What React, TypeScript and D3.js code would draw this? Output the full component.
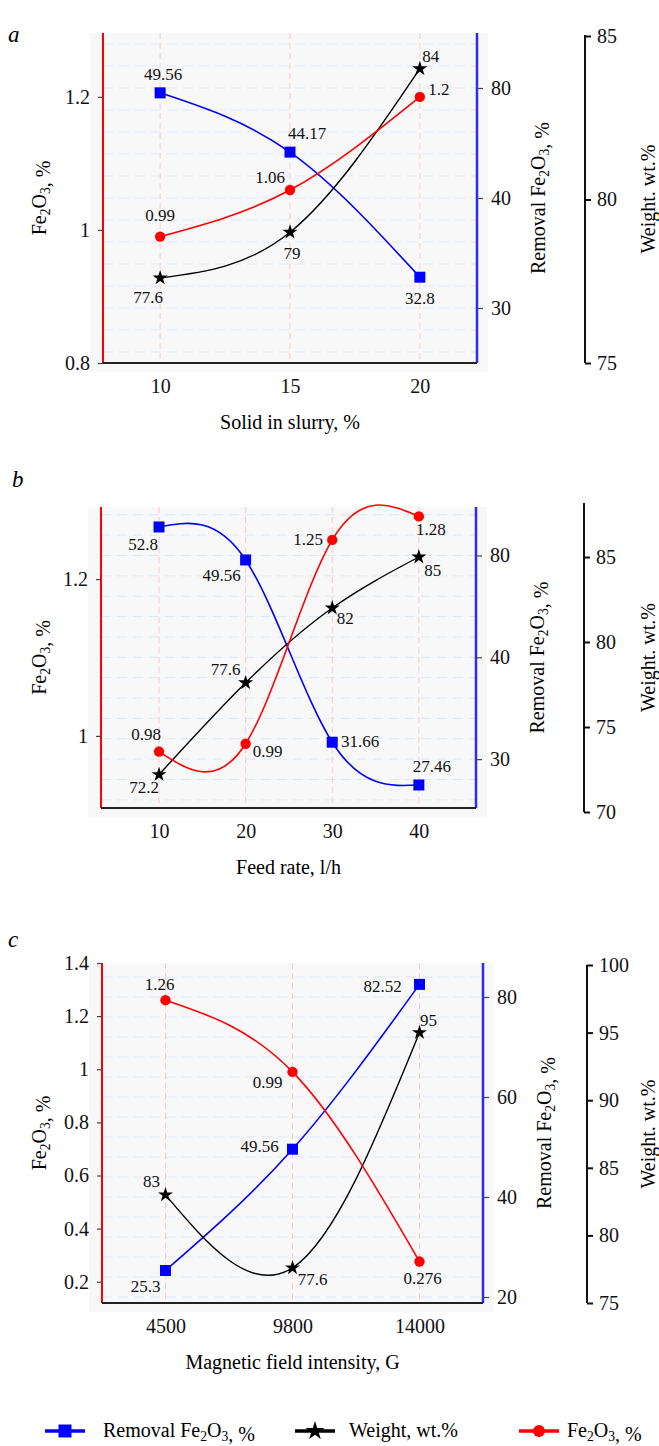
import { useEffect, useRef } from 'react'
import * as d3 from 'd3'

const W = 659
const H = 1446
const FONT = "'Liberation Serif', 'Times New Roman', Tinos, 'DejaVu Serif', serif"

// panel a — solid in slurry
const solidX = [10, 15, 20]
const solidRemoval = [49.56, 44.17, 32.8]
const solidWeight = [77.6, 79, 84]
const solidFe = [0.99, 1.06, 1.2]
const solidFeTicks = [0.8, 1, 1.2]
const solidRemovalTicks = [30, 40, 50]
const solidRemovalTickLabels = ['30', '40', '80']
const solidWeightTicks = [75, 80, 85]

// panel b — feed rate
const feedX = [10, 20, 30, 40]
const feedRemoval = [52.8, 49.56, 31.66, 27.46]
const feedWeight = [72.2, 77.6, 82, 85]
const feedFe = [0.98, 0.99, 1.25, 1.28]
const feedFeTicks = [1, 1.2]
const feedRemovalTicks = [30, 40, 50]
const feedRemovalTickLabels = ['30', '40', '80']
const feedWeightTicks = [70, 75, 80, 85]

// panel c — magnetic field intensity
const fieldX = ['4500', '9800', '14000']
const fieldRemoval = [25.3, 49.56, 82.52]
const fieldWeight = [83, 77.6, 95]
const fieldFe = [1.26, 0.99, 0.276]
const fieldFeTicks = [0.2, 0.4, 0.6, 0.8, 1, 1.2, 1.4]
const fieldRemovalTicks = [20, 40, 60, 80]
const fieldRemovalTickLabels = ['20', '40', '60', '80']
const fieldWeightTicks = [75, 80, 85, 90, 95, 100]

const LEGEND = ['Removal Fe2O3, %', 'Weight, wt.%', 'Fe2O3, %']

const BLUE = '#0000ff'
const RED = '#ff0000'
const BLACK = '#000000'

// data label offsets from the marker (dx, dy)
type Off = [number, number][]
const OFFS: Record<string, { removal: Off; fe: Off; weight: Off }> = {
  a: {
    removal: [[3, -18], [17, -19], [0, 21]],
    fe: [[0, -21], [-20, -13], [19, -7]],
    weight: [[-12, 20], [2, 21], [11, -12]],
  },
  b: {
    removal: [[-16, 18], [-24, 16], [28, -1], [13, -18]],
    fe: [[-13, -17], [22, 8], [-24, 0], [12, 13]],
    weight: [[-15, 13], [-20, -13], [13, 10], [14, 13]],
  },
  c: {
    removal: [[-20, 16], [-33, -3], [-37, 2]],
    fe: [[-6, -16], [-25, 11], [3, 17]],
    weight: [[-14, -13], [20, 12], [9, -12]],
  },
}

interface Panel {
  letter: string
  letterPos: [number, number]
  top: number
  bottom: number
  left: number
  right: number
  weightX: number
  weightTop: number
  weightBottom: number
  x: (v: any) => number
  xValues: (number | string)[]
  xTitle: string
  removal: d3.ScaleLinear<number, number>
  fe: d3.ScaleLinear<number, number>
  weight: d3.ScaleLinear<number, number>
  removalVals: number[]
  feVals: number[]
  weightVals: number[]
  feTicks: number[]
  removalTicks: number[]
  removalTickLabels: string[]
  weightTicks: number[]
  grid: number[]
}

const PANELS: Panel[] = [
  {
    letter: 'a', letterPos: [8, 42],
    top: 33, bottom: 363, left: 103, right: 477, weightX: 585, weightTop: 35, weightBottom: 363,
    x: d3.scaleLinear().domain([7.8, 22.2]).range([103, 477]),
    xValues: solidX, xTitle: 'Solid in slurry, %',
    fe: d3.scaleLinear().domain([0.8, 1.296]).range([363, 33]),
    removal: d3.scaleLinear().domain([25, 55]).range([363, 33]),
    weight: d3.scaleLinear().domain([75, 85]).range([363, 36]),
    removalVals: solidRemoval, feVals: solidFe, weightVals: solidWeight,
    feTicks: solidFeTicks, removalTicks: solidRemovalTicks, removalTickLabels: solidRemovalTickLabels,
    weightTicks: solidWeightTicks, grid: d3.range(26, 55, 2),
  },
  {
    letter: 'b', letterPos: [12, 487],
    top: 507, bottom: 808, left: 101, right: 476, weightX: 584, weightTop: 503, weightBottom: 812,
    x: d3.scaleLinear().domain([3.3, 46.6]).range([101, 476]),
    xValues: feedX, xTitle: 'Feed rate, l/h',
    fe: d3.scaleLinear().domain([0.908, 1.292]).range([808, 507]),
    removal: d3.scaleLinear().domain([25.2, 54.76]).range([808, 507]),
    weight: d3.scaleLinear().domain([70, 85]).range([812, 557]),
    removalVals: feedRemoval, feVals: feedFe, weightVals: feedWeight,
    feTicks: feedFeTicks, removalTicks: feedRemovalTicks, removalTickLabels: feedRemovalTickLabels,
    weightTicks: feedWeightTicks, grid: d3.range(26, 55, 2),
  },
  {
    letter: 'c', letterPos: [8, 947],
    top: 963, bottom: 1303, left: 102, right: 483, weightX: 587, weightTop: 965, weightBottom: 1303,
    x: d3.scalePoint<string>().domain(fieldX).range([102, 483]).padding(0.5) as any,
    xValues: fieldX, xTitle: 'Magnetic field intensity, G',
    fe: d3.scaleLinear().domain([0.12, 1.4]).range([1303, 963]),
    removal: d3.scaleLinear().domain([18.8, 86.8]).range([1303, 963]),
    weight: d3.scaleLinear().domain([75, 100]).range([1303, 965]),
    removalVals: fieldRemoval, feVals: fieldFe, weightVals: fieldWeight,
    feTicks: fieldFeTicks, removalTicks: fieldRemovalTicks, removalTickLabels: fieldRemovalTickLabels,
    weightTicks: fieldWeightTicks, grid: d3.range(20, 87, 4),
  },
]

// writes "Fe2O3" style text with subscript digits into a text element
function subText(el: d3.Selection<SVGTextElement, unknown, null, undefined>, s: string, size: number) {
  const parts = s.split(/(Fe2O3)/)
  parts.forEach((part) => {
    if (part === 'Fe2O3') {
      el.append('tspan').text('Fe')
      el.append('tspan').text('2').attr('font-size', size * 0.68).attr('dy', size * 0.22)
      el.append('tspan').text('O').attr('dy', -size * 0.22)
      el.append('tspan').text('3').attr('font-size', size * 0.68).attr('dy', size * 0.22)
      el.append('tspan').text('').attr('dy', -size * 0.22)
    } else if (part) {
      el.append('tspan').text(part)
    }
  })
}

function star(g: any, x: number, y: number, size = 70) {
  g.append('path')
    .attr('d', d3.symbol(d3.symbolStar, size)())
    .attr('transform', `translate(${x},${y})`)
    .attr('fill', BLACK)
}

function drawPanel(svg: d3.Selection<SVGSVGElement, unknown, null, undefined>, p: Panel) {
  const g = svg.append('g')
  const { top, bottom, left, right } = p
  const offs = OFFS[p.letter]

  g.append('rect')
    .attr('x', left - 13).attr('y', top)
    .attr('width', right - left + 24).attr('height', bottom - top + 9)
    .attr('fill', '#f8f8f9')

  // gridlines
  g.selectAll('.hgrid').data(p.grid).join('line')
    .attr('x1', left).attr('x2', right)
    .attr('y1', (d) => p.removal(d)).attr('y2', (d) => p.removal(d))
    .attr('stroke', '#dde9f5').attr('stroke-width', 1).attr('stroke-dasharray', '10,6')
  g.selectAll('.vgrid').data(p.xValues).join('line')
    .attr('x1', (d) => p.x(d)).attr('x2', (d) => p.x(d))
    .attr('y1', top).attr('y2', bottom)
    .attr('stroke', '#f5cccc').attr('stroke-width', 1).attr('stroke-dasharray', '6,4')

  // axis lines
  g.append('line').attr('x1', left).attr('x2', left).attr('y1', top).attr('y2', bottom)
    .attr('stroke', RED).attr('stroke-width', 2)
  g.append('line').attr('x1', right).attr('x2', right).attr('y1', top).attr('y2', bottom)
    .attr('stroke', '#2a2aff').attr('stroke-width', 2.5)
  g.append('line').attr('x1', left).attr('x2', right).attr('y1', bottom).attr('y2', bottom)
    .attr('stroke', '#222').attr('stroke-width', 2)

  const styleAxis = (a: any) => {
    a.select('.domain').remove()
    a.attr('font-family', null).attr('font-size', 20)
    a.selectAll('text').attr('fill', '#111')
    a.selectAll('.tick line').attr('stroke', '#444').attr('stroke-width', 1.2)
  }

  g.append('g').attr('transform', `translate(${left},0)`)
    .call(d3.axisLeft(p.fe).tickValues(p.feTicks).tickSize(5).tickPadding(8).tickFormat((d) => String(d)))
    .call(styleAxis)

  g.append('g').attr('transform', `translate(${right},0)`)
    .call(d3.axisRight(p.removal).tickValues(p.removalTicks).tickSize(6).tickPadding(8)
      .tickFormat((_, i) => p.removalTickLabels[i]))
    .call(styleAxis)

  g.append('g').attr('transform', `translate(0,${bottom})`)
    .call(d3.axisBottom(p.x as any).tickValues(p.xValues as any).tickSize(0).tickPadding(16)
      .tickFormat((d: any) => String(d)))
    .call(styleAxis)

  // weight axis
  g.append('line').attr('x1', p.weightX).attr('x2', p.weightX)
    .attr('y1', p.weightTop).attr('y2', p.weightBottom)
    .attr('stroke', '#111').attr('stroke-width', 2)
  g.append('g').attr('transform', `translate(${p.weightX},0)`)
    .call(d3.axisRight(p.weight).tickValues(p.weightTicks).tickSize(6).tickPadding(6)
      .tickFormat((d) => String(d)))
    .call(styleAxis)
    .call((a: any) => a.selectAll('.tick line').attr('stroke', '#111').attr('stroke-width', 2))

  // titles
  const mid = (top + bottom) / 2
  g.append('text').attr('x', (left + right) / 2).attr('y', bottom + 66)
    .attr('text-anchor', 'middle').attr('font-size', 20)
    .text(p.xTitle)
  subText(
    g.append('text').attr('transform', `translate(46,${mid}) rotate(-90)`)
      .attr('text-anchor', 'middle').attr('font-size', 20),
    'Fe2O3, %', 20,
  )
  subText(
    g.append('text').attr('transform', `translate(${right + 68},${mid}) rotate(-90)`)
      .attr('text-anchor', 'middle').attr('font-size', 20),
    'Removal Fe2O3, %', 20,
  )
  g.append('text').attr('transform', `translate(655,${(p.weightTop + p.weightBottom) / 2}) rotate(-90)`)
    .attr('text-anchor', 'middle').attr('font-size', 20)
    .text('Weight. wt.%')

  g.append('text').attr('x', p.letterPos[0]).attr('y', p.letterPos[1])
    .attr('font-size', 23).attr('font-style', 'italic')
    .text(p.letter)

  // series
  const series = [
    { vals: p.removalVals, y: p.removal, color: BLUE, width: 1.6, off: offs.removal, kind: 'square' },
    { vals: p.weightVals, y: p.weight, color: BLACK, width: 1.4, off: offs.weight, kind: 'star' },
    { vals: p.feVals, y: p.fe, color: RED, width: 1.6, off: offs.fe, kind: 'circle' },
  ]

  series.forEach((s) => {
    const pts: [number, number][] = s.vals.map((v, i) => [p.x(p.xValues[i]), s.y(v)])
    g.append('path')
      .attr('d', d3.line().curve(d3.curveNatural)(pts))
      .attr('fill', 'none').attr('stroke', s.color).attr('stroke-width', s.width)
  })

  series.forEach((s) => {
    s.vals.forEach((v, i) => {
      const cx = p.x(p.xValues[i])
      const cy = s.y(v)
      if (s.kind === 'square') {
        g.append('rect').attr('x', cx - 5.5).attr('y', cy - 5.5).attr('width', 11).attr('height', 11).attr('fill', BLUE)
      } else if (s.kind === 'circle') {
        g.append('circle').attr('cx', cx).attr('cy', cy).attr('r', 5.2).attr('fill', RED)
      } else {
        star(g, cx, cy)
      }
      g.append('text')
        .attr('x', cx + s.off[i][0]).attr('y', cy + s.off[i][1])
        .attr('text-anchor', 'middle').attr('dominant-baseline', 'central')
        .attr('font-size', 17).attr('fill', '#111')
        .text(String(v))
    })
  })
}

function drawLegend(svg: d3.Selection<SVGSVGElement, unknown, null, undefined>) {
  const y = 1431
  const items = [
    { x0: 45, x1: 85, text: 103, color: BLUE, kind: 'square' },
    { x0: 295, x1: 335, text: 349, color: BLACK, kind: 'star' },
    { x0: 519, x1: 559, text: 567, color: RED, kind: 'circle' },
  ]
  const g = svg.append('g')
  items.forEach((it, i) => {
    const cx = (it.x0 + it.x1) / 2
    g.append('line').attr('x1', it.x0).attr('x2', it.x1).attr('y1', y).attr('y2', y)
      .attr('stroke', it.color).attr('stroke-width', 3.5)
    if (it.kind === 'square') {
      g.append('rect').attr('x', cx - 6.5).attr('y', y - 6.5).attr('width', 13).attr('height', 13).attr('fill', BLUE)
    } else if (it.kind === 'circle') {
      g.append('circle').attr('cx', cx).attr('cy', y).attr('r', 6).attr('fill', RED)
    } else {
      star(g, cx, y, 110)
    }
    subText(
      g.append('text').attr('x', it.text).attr('y', y + 6).attr('font-size', 20),
      LEGEND[i], 20,
    )
  })
}

export default function App() {
  const ref = useRef<SVGSVGElement>(null)

  useEffect(() => {
    if (!ref.current) return
    const svg = d3.select(ref.current)
    svg.selectAll('*').remove()
    PANELS.forEach((p) => drawPanel(svg, p))
    drawLegend(svg)
  }, [])

  return (
    <svg
      ref={ref}
      width={W}
      height={H}
      fontFamily={FONT}
      style={{ position: 'absolute', left: 0, top: 0, background: '#fff' }}
    />
  )
}
